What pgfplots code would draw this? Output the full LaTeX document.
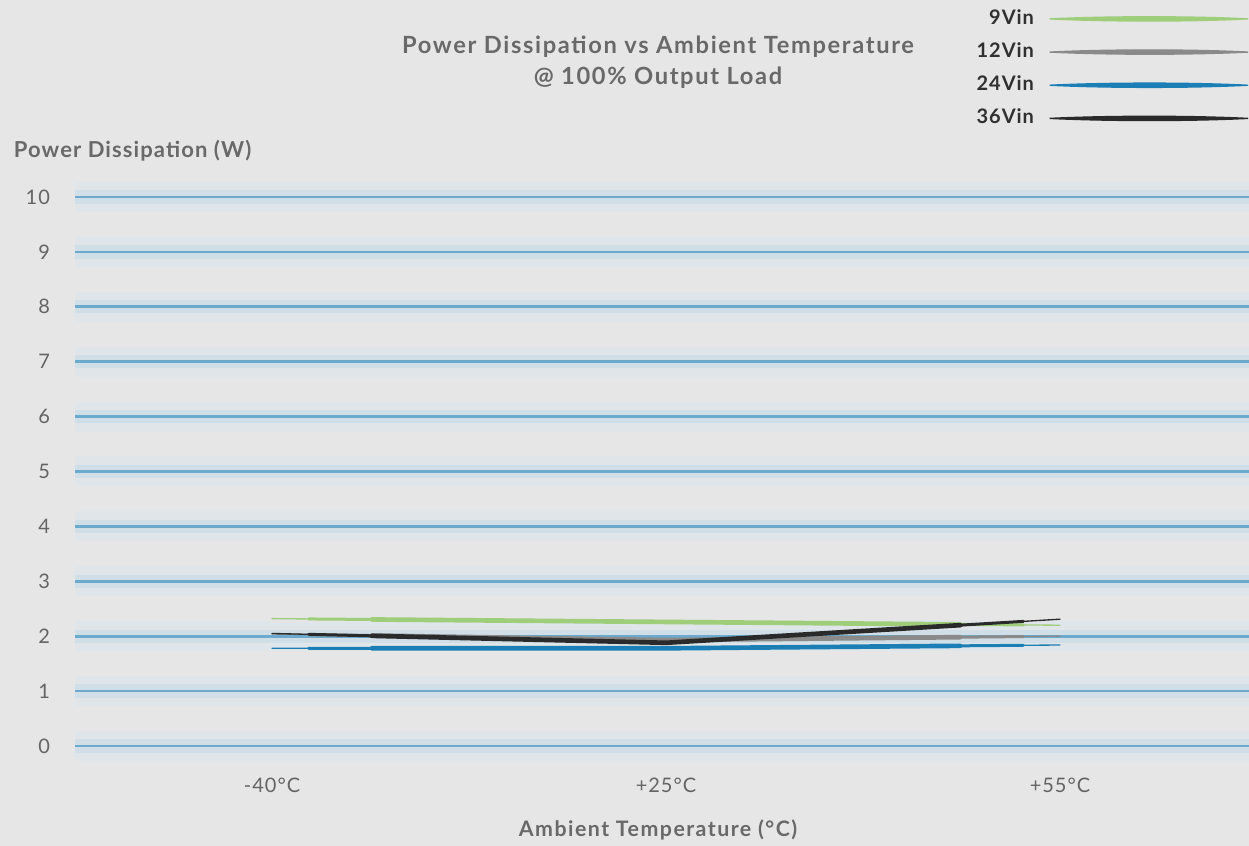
\documentclass[border=0pt]{standalone}
\usepackage{fontspec}
\setmainfont{Lato}
\newfontfamily\spaced[LetterSpace=7]{Lato}
\newfontfamily\spacedlab[LetterSpace=5]{Lato}
\usepackage{pgfplots}
\pgfplotsset{compat=1.18}
\definecolor{bg}{RGB}{230,230,230}
\definecolor{glowA}{RGB}{224,229,233}
\definecolor{glowB}{RGB}{208,222,231}
\definecolor{gridcore}{RGB}{108,170,205}
\definecolor{green9}{RGB}{158,206,122}
\definecolor{gray12}{RGB}{138,138,138}
\definecolor{blue24}{RGB}{27,127,182}
\definecolor{black36}{RGB}{42,42,42}
\definecolor{txtgray}{RGB}{105,105,105}
\definecolor{tickgray}{RGB}{100,100,100}
\definecolor{leggray}{RGB}{48,48,48}
\begin{document}
\begin{tikzpicture}
\fill[bg] (0,0) rectangle (749.4pt,507.6pt);
\begin{axis}[
  at={(45pt,46.8pt)}, anchor=south west,
  scale only axis, width=704.4pt, height=362.4pt,
  xmin=-0.5, xmax=2.4797, ymin=-0.4, ymax=10.6,
  xtick={0,1,2}, xticklabels={-40°C,+25°C,+55°C},
  ytick={0,1,...,10},
  minor ytick={0,1,...,10},
  axis line style={draw=none}, tick style={draw=none}, minor tick style={draw=none},
  ymajorgrids, yminorgrids,
  minor grid style={line width=18pt, color=glowA},
  major grid style={line width=8pt, color=glowB},
  extra y ticks={0,1,...,10}, extra y tick labels={},
  extra y tick style={ymajorgrids=true, major grid style={line width=1.6pt, color=gridcore}},
  /pgf/number format/assume math mode=true,
  ticklabel style={font=\spacedlab\fontsize{12}{14}\selectfont, color=tickgray},
  yticklabel style={anchor=east, xshift=-11.5pt},
  xticklabel style={anchor=center, yshift=-10.2pt},
  xlabel={Ambient Temperature (°C)},
  xlabel style={at={(axis description cs:0.4966,-0.103)}, anchor=center, font=\spaced\bfseries\fontsize{12.8}{14}\selectfont, color=txtgray},
  ylabel={Power Dissipation (W)},
  ylabel style={rotate=-90, at={(axis description cs:-0.057,1.022)}, anchor=west, font=\spacedlab\bfseries\fontsize{13.2}{15}\selectfont, color=txtgray},
  title={Power Dissipation vs Ambient Temperature\\@ 100\% Output Load},
  title style={at={(axis description cs:0.4966,1.152)}, anchor=center, align=center, font=\spaced\bfseries\fontsize{14.2}{18.5}\selectfont, color=txtgray},
  legend plot pos=right,
  legend cell align=right,
  legend image code/.code={\fill[#1] (0pt,0pt) .. controls (35pt,1.7pt) and (85pt,1.7pt) .. (119pt,0pt) .. controls (85pt,-1.7pt) and (35pt,-1.7pt) .. (0pt,0pt) -- cycle;},
  legend style={at={(axis description cs:1,1.258)}, anchor=north east, draw=none, fill=none, inner sep=0pt, row sep=7.4pt, column sep=8pt,
    font=\spacedlab\bfseries\fontsize{12}{14}\selectfont, text=leggray,
    nodes={inner sep=1pt, text height=8.5pt, text depth=2pt}},
]
\addplot[green9, line width=0.8pt, line cap=round] coordinates {(0,2.32) (1,2.26) (2,2.20)};
\addlegendentry{9Vin}
\addplot[green9, line width=1.8pt, line cap=round, shorten <=22pt, shorten >=22pt, forget plot] coordinates {(0,2.32) (1,2.26) (2,2.20)};
\addplot[green9, line width=2.8pt, line cap=round, shorten <=60pt, shorten >=60pt, forget plot] coordinates {(0,2.32) (1,2.26) (2,2.20)};
\addplot[gray12, line width=0.8pt, line cap=round] coordinates {(0,2.04) (1,1.93) (2,2.00)};
\addlegendentry{12Vin}
\addplot[gray12, line width=1.8pt, line cap=round, shorten <=22pt, shorten >=22pt, forget plot] coordinates {(0,2.04) (1,1.93) (2,2.00)};
\addplot[gray12, line width=2.8pt, line cap=round, shorten <=60pt, shorten >=60pt, forget plot] coordinates {(0,2.04) (1,1.93) (2,2.00)};
\addplot[blue24, line width=0.8pt, line cap=round] coordinates {(0,1.78) (1,1.78) (2,1.84)};
\addlegendentry{24Vin}
\addplot[blue24, line width=1.8pt, line cap=round, shorten <=22pt, shorten >=22pt, forget plot] coordinates {(0,1.78) (1,1.78) (2,1.84)};
\addplot[blue24, line width=2.8pt, line cap=round, shorten <=60pt, shorten >=60pt, forget plot] coordinates {(0,1.78) (1,1.78) (2,1.84)};
\addplot[black36, line width=0.8pt, line cap=round] coordinates {(0,2.05) (1,1.88) (2,2.31)};
\addlegendentry{36Vin}
\addplot[black36, line width=1.8pt, line cap=round, shorten <=22pt, shorten >=22pt, forget plot] coordinates {(0,2.05) (1,1.88) (2,2.31)};
\addplot[black36, line width=2.8pt, line cap=round, shorten <=60pt, shorten >=60pt, forget plot] coordinates {(0,2.05) (1,1.88) (2,2.31)};
\end{axis}
\pgfresetboundingbox
\path[use as bounding box] (0,0) rectangle (749.4pt,507.6pt);
\end{tikzpicture}
\end{document}
